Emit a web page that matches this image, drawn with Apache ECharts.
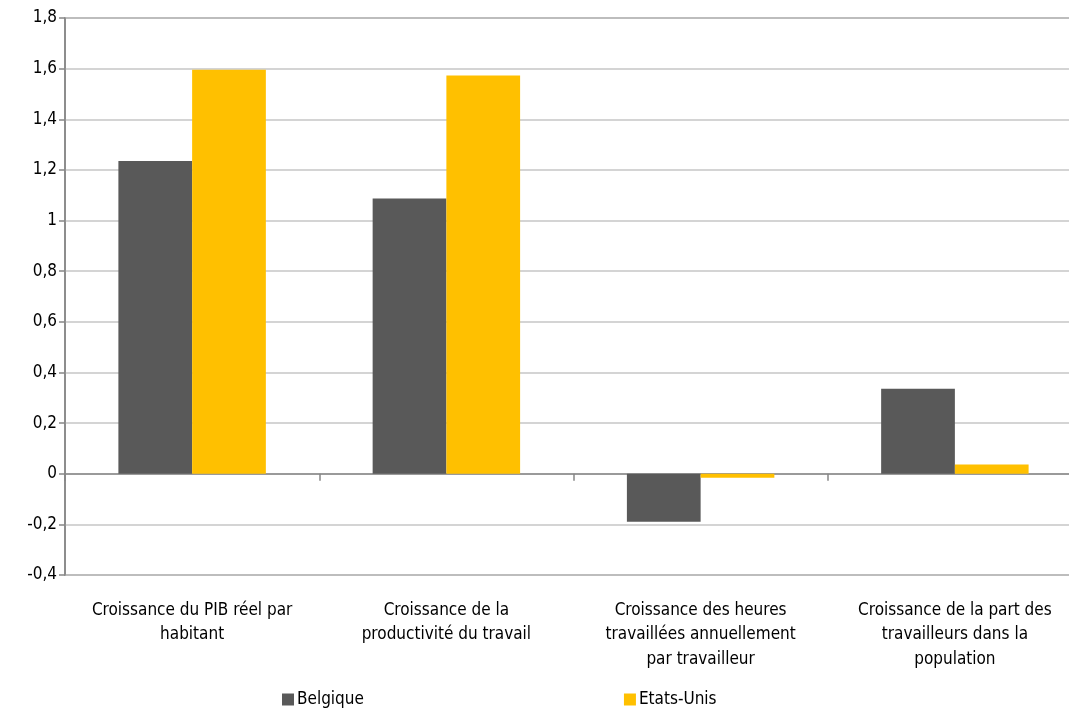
<!DOCTYPE html>
<html>
<head>
<meta charset="utf-8">
<script src="https://cdn.jsdelivr.net/npm/echarts@6/dist/echarts.min.js"></script>
<style>
  html, body { margin: 0; padding: 0; background: #ffffff; overflow: hidden; width: 1069px; height: 709px; }
  #chart { width: 1100px; height: 709px; }
</style>
</head>
<body>
<div id="chart"></div>
<script>
// Décomposition de la croissance : Belgique vs Etats-Unis
const categories = [
  'Croissance du PIB réel par\nhabitant',
  'Croissance de la\nproductivité du travail',
  'Croissance des heures\ntravaillées annuellement\npar travailleur',
  'Croissance de la part des\ntravailleurs dans la\npopulation'
];
const seriesNames = ['Belgique', 'Etats-Unis'];
const belgique = [1.235, 1.087, -0.19, 0.336];
const etatsUnis = [1.596, 1.573, -0.016, 0.036];
const yTicks = { min: -0.4, max: 1.8, interval: 0.2 };

const FONT = "'Liberation Sans Narrow', 'DejaVu Sans Condensed', 'Liberation Sans', sans-serif";
const chart = echarts.init(document.getElementById('chart'), null, { renderer: 'canvas' });

const fmt = v => String(Math.round(v * 10) / 10).replace('.', ',');

chart.setOption({
  animation: false,
  backgroundColor: '#ffffff',
  textStyle: { fontFamily: FONT },
  // plot area runs past the right edge of the visible page
  grid: {
    left: 65, width: 1017, top: 18, height: 557,
    outerBoundsMode: 'none', containLabel: false,
    show: true, borderColor: '#868686', borderWidth: 1.5, backgroundColor: 'transparent'
  },
  legend: {
    left: 277, top: 686,
    itemGap: 260, itemWidth: 12, itemHeight: 12,
    icon: 'rect',
    textStyle: { fontFamily: FONT, fontSize: 17, color: '#000000', padding: [0, 0, 0, -2] },
    data: seriesNames
  },
  xAxis: [
    {
      type: 'category', data: categories, position: 'bottom',
      axisLine: { onZero: true, lineStyle: { color: '#868686', width: 1.5 } },
      axisTick: { show: true, length: 7, lineStyle: { color: '#868686', width: 1.5 } },
      axisLabel: { show: false },
      splitLine: { show: false }
    },
    {
      type: 'category', data: categories, position: 'bottom',
      axisLine: { show: false, onZero: false },
      axisTick: { show: false },
      axisLabel: {
        show: true, interval: 0, margin: 23,
        fontFamily: FONT, fontSize: 17, color: '#000000', lineHeight: 24.5, align: 'center'
      }
    }
  ],
  yAxis: {
    type: 'value', min: yTicks.min, max: yTicks.max, interval: yTicks.interval,
    axisLine: { show: true, lineStyle: { color: '#868686', width: 1.5 } },
    axisTick: { show: true, length: 6, lineStyle: { color: '#868686', width: 1.5 } },
    axisLabel: { margin: 8, fontFamily: FONT, fontSize: 17, color: '#000000', formatter: fmt },
    splitLine: { show: true, lineStyle: { color: '#c6c6c6', width: 1.5 } }
  },
  series: [
    {
      name: seriesNames[0], type: 'bar', data: belgique, xAxisIndex: 0,
      itemStyle: { color: '#595959' },
      barGap: '0%', barCategoryGap: '42%'
    },
    {
      name: seriesNames[1], type: 'bar', data: etatsUnis, xAxisIndex: 0,
      itemStyle: { color: '#FFC000' },
      barGap: '0%', barCategoryGap: '42%'
    }
  ]
});
</script>
</body>
</html>
